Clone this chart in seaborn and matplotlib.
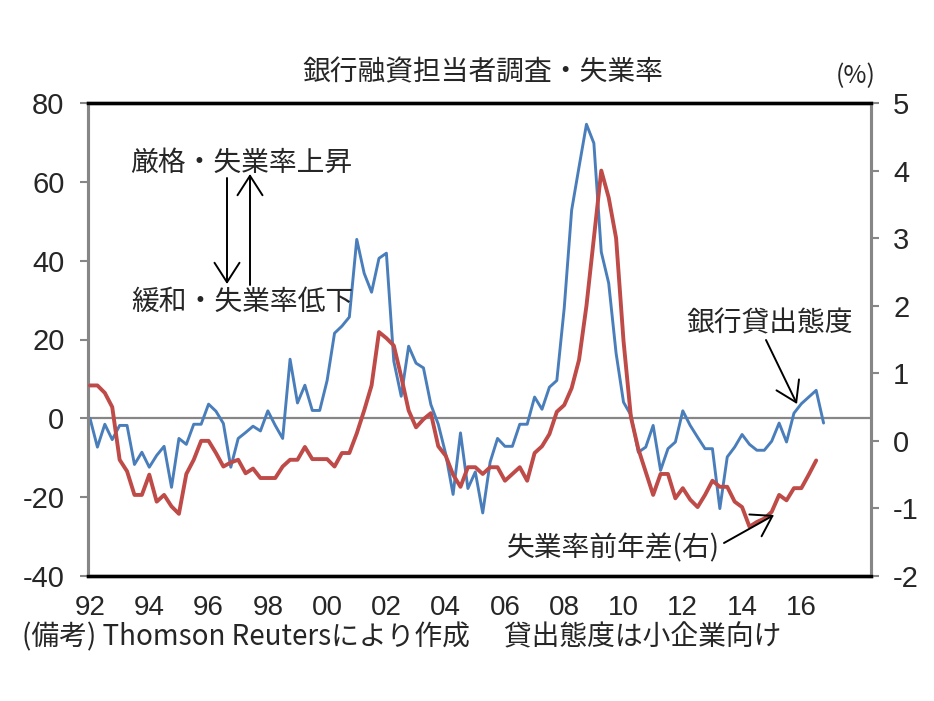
import numpy as np
import pandas as pd
import matplotlib
matplotlib.use("Agg")
import matplotlib.pyplot as plt
import seaborn as sns

# ---- data (quarterly, starting 1992Q1) ----
lending_attitude = [
    0, -7.3, -1.5, -5.4, -1.8, -1.8, -11.7, -8.6, -12.4, -9.4,
    -7.1, -17.5, -5.1, -6.6, -1.5, -1.5, 3.6, 1.8, -1.3, -12.4,
    -5.1, -3.6, -2.0, -3.2, 1.9, -1.8, -5.1, 15.0, 3.9, 8.4,
    2.0, 2.0, 9.6, 21.6, 23.4, 25.7, 45.4, 36.8, 32.0, 40.6,
    41.9, 14.5, 5.6, 18.3, 14.0, 12.8, 3.5, -1.5, -9.0, -19.3,
    -3.7, -17.8, -13.6, -24.0, -11.1, -5.1, -7.1, -7.1, -1.5, -1.5,
    5.4, 2.3, 7.9, 9.6, 28.0, 52.8, 63.8, 74.6, 69.8, 42.2,
    34.3, 16.5, 4.1, 0.8, -8.6, -7.3, -1.8, -13.2, -7.7, -6.0,
    1.9, -1.8, -4.8, -7.7, -7.7, -22.9, -9.8, -7.3, -4.1, -6.6,
    -8.1, -8.1, -5.8, -1.2, -6.0, 1.3, 3.7, 5.4, 7.1, -1.2,
]
unemp_yoy = [
    0.82, 0.82, 0.71, 0.50, -0.28, -0.45, -0.80, -0.80, -0.50, -0.90,
    -0.80, -0.97, -1.08, -0.49, -0.28, 0.00, 0.00, -0.18, -0.38, -0.32,
    -0.28, -0.48, -0.41, -0.55, -0.55, -0.55, -0.38, -0.28, -0.28, -0.09,
    -0.27, -0.27, -0.27, -0.38, -0.18, -0.18, 0.11, 0.45, 0.82, 1.61,
    1.52, 1.41, 0.95, 0.45, 0.20, 0.32, 0.41, -0.08, -0.22, -0.50,
    -0.68, -0.39, -0.39, -0.49, -0.39, -0.39, -0.59, -0.49, -0.39, -0.59,
    -0.18, -0.08, 0.10, 0.43, 0.53, 0.78, 1.20, 2.00, 3.00, 4.00,
    3.60, 3.00, 1.48, 0.35, -0.12, -0.46, -0.80, -0.49, -0.49, -0.85,
    -0.70, -0.87, -0.98, -0.80, -0.59, -0.68, -0.68, -0.90, -0.98, -1.27,
    -1.20, -1.15, -1.05, -0.80, -0.88, -0.70, -0.70, -0.50, -0.29,
]
year_labels = ["92", "94", "96", "98", "00", "02", "04", "06", "08", "10", "12", "14", "16"]
left_ticks = [-40, -20, 0, 20, 40, 60, 80]
right_ticks = [-2, -1, 0, 1, 2, 3, 4, 5]

title = "銀行融資担当者調査・失業率"
footer = "(備考) Thomson Reutersにより作成　 貸出態度は小企業向け"

# ---- style ----
sns.set_style("white")
plt.rcParams["font.family"] = ["Noto Sans CJK JP", "DejaVu Sans"]
plt.rcParams["axes.unicode_minus"] = False

BLUE = "#4A7EBB"
RED = "#BE4B48"
GRAY = "#868686"
NUM_FONT = ["Liberation Sans Narrow", "Liberation Sans", "DejaVu Sans"]

W, H = 934, 701
fig = plt.figure(figsize=(W / 100, H / 100), dpi=100)
L, R, T, B = 88, 871, 103, 576
ax = fig.add_axes([L / W, 1 - B / H, (R - L) / W, (B - T) / H])
ax2 = ax.twinx()

df_b = pd.DataFrame({"q": np.arange(len(lending_attitude)), "v": lending_attitude})
df_r = pd.DataFrame({"q": np.arange(len(unemp_yoy)), "v": unemp_yoy})

ax.axhline(0, color=GRAY, lw=1.6, zorder=1)
sns.lineplot(data=df_b, x="q", y="v", ax=ax, color=BLUE, lw=2.1, zorder=3)
sns.lineplot(data=df_r, x="q", y="v", ax=ax2, color=RED, lw=2.8, zorder=3)

ax.set_xlim(-0.27, 105.4)
ax.set_ylim(-40, 80)
ax2.set_ylim(-2, 5)

for a in (ax, ax2):
    a.set_xlabel("")
    a.set_ylabel("")
    for s in ("top", "bottom"):
        a.spines[s].set_color("black")
        a.spines[s].set_linewidth(2.4)
    for s in ("left", "right"):
        a.spines[s].set_color(GRAY)
        a.spines[s].set_linewidth(2.2)

ax.set_xticks(np.arange(0, 8 * len(year_labels), 8))
ax.set_xticklabels(year_labels, fontfamily=NUM_FONT, fontsize=20)
ax.tick_params(axis="x", length=0, pad=14)

ax.set_yticks(left_ticks)
ax.set_yticklabels([str(v) for v in left_ticks], fontfamily=NUM_FONT, fontsize=21)
ax.tick_params(axis="y", direction="out", length=6, width=1.5, color=GRAY, pad=11,
               left=True, right=False)

ax2.set_yticks(right_ticks)
ax2.set_yticklabels([str(v) for v in right_ticks], fontfamily=NUM_FONT, fontsize=21)
ax2.tick_params(axis="y", direction="out", length=6, width=1.5, color=GRAY, pad=10,
                right=True, left=False)

def fp(x, y):
    return (x / W, 1 - y / H)

fig.text(*fp(483, 72), title, ha="center", va="center", fontsize=20)
fig.text(*fp(856, 76), "(%)", ha="center", va="center", fontsize=18)
fig.text(*fp(241, 163), "厳格・失業率上昇", ha="center", va="center", fontsize=20)
fig.text(*fp(242, 302), "緩和・失業率低下", ha="center", va="center", fontsize=20)
fig.text(*fp(770, 323), "銀行貸出態度", ha="center", va="center", fontsize=20)
fig.text(*fp(613, 548), "失業率前年差(右)", ha="center", va="center", fontsize=20)
fig.text(*fp(22, 637), footer, ha="left", va="center", fontsize=20)

def arrow(x0, y0, x1, y1):
    fig.patches.append(matplotlib.patches.FancyArrowPatch(
        fp(x0, y0), fp(x1, y1), transform=fig.transFigure,
        arrowstyle="->,head_length=0.7,head_width=0.45", mutation_scale=20,
        color="black", lw=1.4, shrinkA=0, shrinkB=0))

arrow(227, 178, 227, 284)
arrow(250, 285, 250, 174)
arrow(766, 340, 797, 404)
arrow(724, 543, 774, 515)

fig.savefig("out.png", dpi=100)
